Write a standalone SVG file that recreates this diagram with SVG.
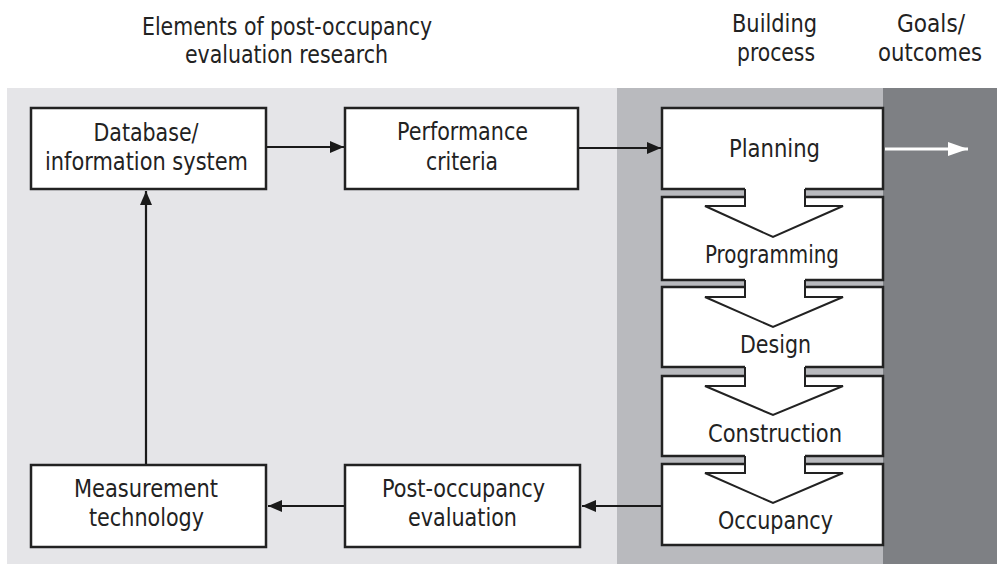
<svg xmlns="http://www.w3.org/2000/svg" width="997" height="564" viewBox="0 0 997 564">
<defs>
<style>
.t{font-family:"Liberation Sans Narrow","DejaVu Sans Condensed","Liberation Sans",sans-serif;font-size:25px;fill:#222;text-anchor:middle}
.box{fill:#fff;stroke:#222;stroke-width:2.5}
.con{stroke:#1a1a1a;stroke-width:2.2;fill:none}
.ba{fill:#fff;stroke:none}
.bo{fill:none;stroke:#222;stroke-width:2;stroke-linejoin:miter}
</style>
<marker id="ah" markerUnits="userSpaceOnUse" markerWidth="14" markerHeight="12" refX="14" refY="6" orient="auto">
<path d="M0,0 L14,6 L0,12 z" fill="#1a1a1a"/>
</marker>
<marker id="wh" markerUnits="userSpaceOnUse" markerWidth="20" markerHeight="14" refX="20" refY="7" orient="auto">
<path d="M0,0 L20,7 L0,14 z" fill="#fff"/>
</marker>
</defs>

<g id="backgrounds">
<rect x="7" y="88" width="610" height="476" fill="#e5e5e8"/>
<rect x="617" y="88" width="266" height="476" fill="#b9babe"/>
<rect x="883" y="88" width="114" height="476" fill="#7e8084"/>
</g>

<g id="headers">
<text class="t" x="287" y="35" textLength="290" lengthAdjust="spacingAndGlyphs">Elements of post-occupancy</text>
<text class="t" x="286.5" y="63" textLength="203" lengthAdjust="spacingAndGlyphs">evaluation research</text>
<text class="t" x="774.5" y="32" textLength="85" lengthAdjust="spacingAndGlyphs">Building</text>
<text class="t" x="776" y="61" textLength="78" lengthAdjust="spacingAndGlyphs">process</text>
<text class="t" x="931" y="32" textLength="68" lengthAdjust="spacingAndGlyphs">Goals/</text>
<text class="t" x="930" y="61" textLength="104" lengthAdjust="spacingAndGlyphs">outcomes</text>
</g>

<g id="connectors">
<line class="con" x1="266" y1="147" x2="344" y2="147" marker-end="url(#ah)"/>
<line class="con" x1="579" y1="148" x2="661" y2="148" marker-end="url(#ah)"/>
<line class="con" x1="146" y1="465" x2="146" y2="191" marker-end="url(#ah)"/>
<line class="con" x1="662" y1="506" x2="582" y2="506" marker-end="url(#ah)"/>
<line class="con" x1="345" y1="506" x2="268" y2="506" marker-end="url(#ah)"/>
<line x1="885" y1="149" x2="968" y2="149" stroke="#fff" stroke-width="3" marker-end="url(#wh)"/>
</g>

<g id="database">
<rect class="box" x="31" y="108" width="235" height="81"/>
<text class="t" x="146" y="141" textLength="105" lengthAdjust="spacingAndGlyphs">Database/</text>
<text class="t" x="146.5" y="170" textLength="203" lengthAdjust="spacingAndGlyphs">information system</text>
</g>

<g id="performance">
<rect class="box" x="345" y="108" width="233" height="81"/>
<text class="t" x="462.5" y="140" textLength="131" lengthAdjust="spacingAndGlyphs">Performance</text>
<text class="t" x="462" y="170" textLength="72" lengthAdjust="spacingAndGlyphs">criteria</text>
</g>

<g id="measurement">
<rect class="box" x="31" y="465" width="235" height="82"/>
<text class="t" x="146" y="497" textLength="144" lengthAdjust="spacingAndGlyphs">Measurement</text>
<text class="t" x="146.5" y="526" textLength="115" lengthAdjust="spacingAndGlyphs">technology</text>
</g>

<g id="post-occupancy">
<rect class="box" x="345" y="465" width="235" height="82"/>
<text class="t" x="463.5" y="497" textLength="163" lengthAdjust="spacingAndGlyphs">Post-occupancy</text>
<text class="t" x="462.5" y="526" textLength="109" lengthAdjust="spacingAndGlyphs">evaluation</text>
</g>

<g id="planning">
<rect class="box" x="662" y="108" width="221" height="81"/>
<text class="t" x="774.5" y="157" textLength="91" lengthAdjust="spacingAndGlyphs">Planning</text>
</g>

<g id="programming">
<rect class="box" x="662" y="197" width="221" height="83"/>
<path class="ba" d="M745,186 L805,186 L805,206 L843,206 L773,237 L705,206 L745,206 z"/>
<path class="bo" d="M745,189 L745,206 L705,206 L773,237 L843,206 L805,206 L805,189"/>
<text class="t" x="772" y="263" textLength="134" lengthAdjust="spacingAndGlyphs">Programming</text>
</g>

<g id="design">
<rect class="box" x="662" y="287" width="221" height="80"/>
<path class="ba" d="M745,277 L805,277 L805,297 L843,297 L773,327 L705,297 L745,297 z"/>
<path class="bo" d="M745,280 L745,297 L705,297 L773,327 L843,297 L805,297 L805,280"/>
<text class="t" x="775.5" y="353" textLength="71" lengthAdjust="spacingAndGlyphs">Design</text>
</g>

<g id="construction">
<rect class="box" x="662" y="376" width="221" height="80"/>
<path class="ba" d="M745,364 L805,364 L805,386 L843,386 L773,415 L705,386 L745,386 z"/>
<path class="bo" d="M745,367 L745,386 L705,386 L773,415 L843,386 L805,386 L805,367"/>
<text class="t" x="775" y="442" textLength="134" lengthAdjust="spacingAndGlyphs">Construction</text>
</g>

<g id="occupancy">
<rect class="box" x="662" y="464" width="221" height="81"/>
<path class="ba" d="M745,453 L805,453 L805,473 L843,473 L773,503 L705,473 L745,473 z"/>
<path class="bo" d="M745,456 L745,473 L705,473 L773,503 L843,473 L805,473 L805,456"/>
<text class="t" x="775.5" y="529" textLength="115" lengthAdjust="spacingAndGlyphs">Occupancy</text>
</g>
</svg>
